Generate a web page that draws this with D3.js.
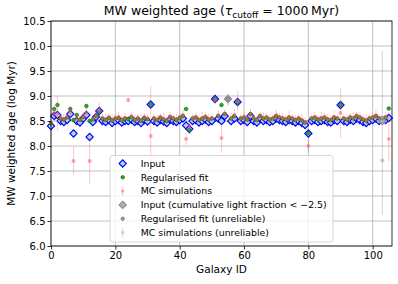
<!DOCTYPE html>
<html><head><meta charset="utf-8">
<script src="https://cdn.jsdelivr.net/npm/d3@7"></script>
<style>body{margin:0;background:#fff}svg{display:block;font-family:"DejaVu Sans",sans-serif}</style>
</head><body><svg id="c" width="398" height="284"></svg>
<script>
const inputAge = [8.40, 8.60, 8.62, 8.50, 8.48, 8.52, 8.64, 8.25, 8.50, 8.47,
 8.55, 8.62, 8.18, 8.48, 8.58, 8.70, 8.50, 8.48, 8.52, 8.46,
 8.50, 8.52, 8.47, 8.50, 8.50, 8.53, 8.48, 8.50, 8.46, 8.52,
 8.49, 8.83, 8.50, 8.47, 8.52, 8.49, 8.46, 8.53, 8.50, 8.48,
 8.52, 8.55, 8.41, 8.34, 8.50, 8.52, 8.47, 8.50, 8.53, 8.48,
 8.50, 8.94, 8.55, 8.50, 8.60, null, 8.50, 8.55, 8.88, 8.50,
 8.52, 8.48, 8.60, 8.50, 8.47, 8.55, 8.50, 8.52, 8.48, 8.50,
 8.55, 8.52, 8.50, 8.48, 8.52, 8.50, 8.47, 8.50, 8.46, 8.42,
 8.25, 8.50, 8.52, 8.48, 8.50, 8.52, 8.48, 8.47, 8.52, 8.50,
 8.82, 8.50, 8.48, 8.52, 8.50, 8.55, 8.52, 8.48, 8.46, 8.50,
 8.52, 8.55, 8.50, null, 8.52, 8.56];
const regFit = [8.45, 8.74, 8.82, 8.55, 8.53, 8.57, 8.74, 8.52, 8.62, 8.52,
 8.58, 8.80, 8.50, 8.53, 8.60, 8.68, 8.55, 8.52, 8.56, 8.51,
 8.55, 8.56, 8.52, 8.55, 8.54, 8.58, 8.52, 8.55, 8.50, 8.56,
 8.54, 8.83, 8.55, 8.52, 8.57, 8.53, 8.50, 8.58, 8.55, 8.52,
 8.56, 8.60, 8.74, 8.32, 8.55, 8.57, 8.52, 8.55, 8.58, 8.53,
 8.55, 8.94, 8.60, 8.82, 8.64, null, 8.55, 8.60, 8.87, 8.55,
 8.57, 8.53, 8.64, 8.55, 8.52, 8.60, 8.55, 8.57, 8.53, 8.55,
 8.60, 8.57, 8.55, 8.53, 8.57, 8.55, 8.52, 8.55, 8.51, 8.47,
 8.26, 8.55, 8.57, 8.53, 8.55, 8.57, 8.53, 8.52, 8.57, 8.55,
 8.82, 8.55, 8.53, 8.57, 8.55, 8.60, 8.57, 8.53, 8.51, 8.55,
 8.57, 8.60, 8.55, null, 8.57, 8.75];
const mcAge = [8.46, 8.66, 8.65, 8.56, 8.54, 8.58, 8.68, 7.70, 8.56, 8.53,
 8.60, 8.66, 7.70, 8.54, 8.62, 8.72, 8.56, 8.54, 8.58, 8.52,
 8.56, 8.58, 8.53, 8.56, 8.92, 8.59, 8.54, 8.56, 8.52, 8.58,
 8.55, 8.20, 8.56, 8.53, 8.58, 8.55, 8.52, 8.59, 8.56, 8.54,
 8.58, 8.62, 8.14, 8.40, 8.56, 8.58, 8.53, 8.56, 8.59, 8.54,
 8.56, 8.92, 8.62, 8.16, 8.64, null, 8.56, 8.62, 8.90, 8.56,
 8.58, 8.54, 8.64, 8.56, 8.53, 8.61, 8.56, 8.58, 8.54, 8.56,
 8.61, 8.58, 8.56, 8.54, 8.58, 8.56, 8.53, 8.56, 8.52, 8.48,
 8.00, 8.56, 8.58, 8.54, 8.56, 8.58, 8.54, 8.53, 8.58, 8.56,
 8.66, 8.56, 8.54, 8.58, 8.56, 8.61, 8.58, 8.54, 8.52, 8.56,
 8.58, 8.61, 8.56, null, 8.58, 8.14];
const mcErr = [0.08, 0.15, 0.35, 0.08, 0.10, 0.08, 0.12, 0.28, 0.08, 0.10,
 0.08, 0.12, 0.46, 0.08, 0.10, 0.15, 0.08, 0.10, 0.08, 0.12,
 0.08, 0.10, 0.08, 0.10, 0.05, 0.08, 0.10, 0.08, 0.12, 0.08,
 0.10, 1.00, 0.08, 0.10, 0.08, 0.12, 0.08, 0.10, 0.08, 0.10,
 0.08, 0.12, 0.12, 0.10, 0.08, 0.10, 0.08, 0.12, 0.08, 0.10,
 0.08, 0.06, 0.10, 0.30, 0.10, null, 0.08, 0.12, 0.20, 0.08,
 0.10, 0.08, 0.12, 0.08, 0.10, 0.08, 0.12, 0.08, 0.10, 0.08,
 0.12, 0.08, 0.10, 0.08, 0.12, 0.08, 0.10, 0.08, 0.12, 0.10,
 0.12, 0.08, 0.10, 0.08, 0.12, 0.08, 0.10, 0.08, 0.12, 0.08,
 0.50, 0.08, 0.10, 0.08, 0.12, 0.08, 0.10, 0.08, 0.12, 0.08,
 0.10, 0.12, 0.08, null, 0.10, 0.45];
const unrelIds = [55, 103];
const unrelInput = [8.94, 8.50];
const unrelReg = [8.94, 8.56];
const unrelMc = [8.92, 7.71];
const unrelMcLo = [8.80, 6.62];
const unrelMcHi = [9.05, 9.90];
const xTicks = [0, 20, 40, 60, 80, 100];
const yTicks = [6.0, 6.5, 7.0, 7.5, 8.0, 8.5, 9.0, 9.5, 10.0, 10.5];
const legendLabels = ["Input", "Regularised fit", "MC simulations",
  "Input (cumulative light fraction < \u22122.5)", "Regularised fit (unreliable)", "MC simulations (unreliable)"];

const svg = d3.select("#c");
const L = 51, R = 392, T = 21, B = 246;
const x = d3.scaleLinear().domain([0, 106]).range([L, R]);
const y = d3.scaleLinear().domain([6, 10.5]).range([B, T]);

// grid
const g = svg.append("g");
g.selectAll("line.gx").data(xTicks).join("line")
  .attr("x1", d => x(d)).attr("x2", d => x(d)).attr("y1", T).attr("y2", B)
  .attr("stroke", "#b0b0b0").attr("stroke-width", 0.8);
g.selectAll("line.gy").data(yTicks).join("line").attr("class","gy")
  .attr("x1", L).attr("x2", R).attr("y1", d => y(d)).attr("y2", d => y(d))
  .attr("stroke", "#b0b0b0").attr("stroke-width", 0.8);

const rel = d3.range(inputAge.length).filter(i => inputAge[i] !== null);
const diamond = d3.symbol(d3.symbolSquare, 26)();
const circle = d3.symbol(d3.symbolCircle, 10)();
const mcCircle = d3.symbol(d3.symbolCircle, 12)();

const plot = svg.append("g");
// Input
plot.selectAll("path.inp").data(rel).join("path")
  .attr("d", diamond).attr("transform", i => `translate(${x(i)},${y(inputAge[i])}) rotate(45)`)
  .attr("fill", "#a8d8ea").attr("stroke", "#0000ff").attr("stroke-width", 1.1);
// Regularised fit
plot.selectAll("path.reg").data(rel).join("path")
  .attr("d", circle).attr("transform", i => `translate(${x(i)},${y(regFit[i])})`)
  .attr("fill", "#22b022").attr("stroke", "#0b6b0b").attr("stroke-width", 0.7);
// MC simulations
plot.selectAll("line.mc").data(rel).join("line")
  .attr("x1", i => x(i)).attr("x2", i => x(i))
  .attr("y1", i => y(mcAge[i] - mcErr[i])).attr("y2", i => y(mcAge[i] + mcErr[i]))
  .attr("stroke", "#ff5555").attr("stroke-opacity", 0.3).attr("stroke-width", 1.1);
plot.selectAll("path.mc").data(rel).join("path")
  .attr("d", mcCircle).attr("transform", i => `translate(${x(i)},${y(mcAge[i])})`)
  .attr("fill", "#ff4d6a").attr("fill-opacity", 0.5);
// Unreliable
const ui = d3.range(unrelIds.length);
plot.selectAll("path.uinp").data(ui).join("path")
  .attr("d", diamond).attr("transform", k => `translate(${x(unrelIds[k])},${y(unrelInput[k])}) rotate(45)`)
  .attr("fill", "#b0b0b0").attr("stroke", "#8a8a8a").attr("stroke-width", 1.1);
plot.selectAll("path.ureg").data(ui).join("path")
  .attr("d", circle).attr("transform", k => `translate(${x(unrelIds[k])},${y(unrelReg[k])})`)
  .attr("fill", "#a0a0a0").attr("stroke", "#707070").attr("stroke-width", 0.7);
plot.selectAll("line.umc").data(ui).join("line")
  .attr("x1", k => x(unrelIds[k])).attr("x2", k => x(unrelIds[k]))
  .attr("y1", k => y(unrelMcLo[k])).attr("y2", k => y(unrelMcHi[k]))
  .attr("stroke", "#999").attr("stroke-opacity", 0.4).attr("stroke-width", 1.1);
plot.selectAll("path.umc").data(ui).join("path")
  .attr("d", mcCircle).attr("transform", k => `translate(${x(unrelIds[k])},${y(unrelMc[k])})`)
  .attr("fill", "#999").attr("fill-opacity", 0.5);

// axes
const xa = svg.append("g").attr("transform", `translate(0,${B})`)
  .call(d3.axisBottom(x).tickValues(xTicks).tickFormat(d3.format("d")).tickSize(3.5).tickPadding(2));
const ya = svg.append("g").attr("transform", `translate(${L},0)`)
  .call(d3.axisLeft(y).tickValues(yTicks).tickFormat(d3.format(".1f")).tickSize(3.5).tickPadding(2));
[xa, ya].forEach(a => {
  a.select(".domain").remove();
  a.selectAll("text").attr("font-size", 10).attr("fill", "#000").attr("font-family", "DejaVu Sans");
  a.selectAll("line").attr("stroke", "#000").attr("stroke-width", 0.8);
});
svg.append("rect").attr("x", L).attr("y", T).attr("width", R - L).attr("height", B - T)
  .attr("fill", "none").attr("stroke", "#000").attr("stroke-width", 0.8);

// legend
const lg = svg.append("g");
lg.append("rect").attr("x", 110).attr("y", 155.5).attr("width", 223).attr("height", 86.5)
  .attr("rx", 2.5).attr("fill", "#fff").attr("fill-opacity", 0.8).attr("stroke", "#cccccc").attr("stroke-width", 0.8);
const ly = d => 163.5 + d * 13.8;
const mx = 122.7;
lg.append("path").attr("d", diamond).attr("transform", `translate(${mx},${ly(0)}) rotate(45)`)
  .attr("fill", "#a8d8ea").attr("stroke", "#0000ff").attr("stroke-width", 1.1);
lg.append("path").attr("d", d3.symbol(d3.symbolCircle, 9)()).attr("transform", `translate(${mx},${ly(1)})`)
  .attr("fill", "#22b022").attr("stroke", "#0b6b0b").attr("stroke-width", 0.8);
lg.append("line").attr("x1", mx).attr("x2", mx).attr("y1", ly(2) - 5).attr("y2", ly(2) + 5)
  .attr("stroke", "#ff5555").attr("stroke-opacity", 0.3).attr("stroke-width", 1.1);
lg.append("path").attr("d", d3.symbol(d3.symbolCircle, 9)()).attr("transform", `translate(${mx},${ly(2)})`)
  .attr("fill", "#ff4d6a").attr("fill-opacity", 0.5);
lg.append("path").attr("d", diamond).attr("transform", `translate(${mx},${ly(3)}) rotate(45)`)
  .attr("fill", "#b0b0b0").attr("stroke", "#8a8a8a").attr("stroke-width", 1.1);
lg.append("path").attr("d", d3.symbol(d3.symbolCircle, 9)()).attr("transform", `translate(${mx},${ly(4)})`)
  .attr("fill", "#a0a0a0").attr("stroke", "#707070").attr("stroke-width", 0.8);
lg.append("line").attr("x1", mx).attr("x2", mx).attr("y1", ly(5) - 5).attr("y2", ly(5) + 5)
  .attr("stroke", "#999").attr("stroke-opacity", 0.3).attr("stroke-width", 1.1);
lg.append("path").attr("d", d3.symbol(d3.symbolCircle, 9)()).attr("transform", `translate(${mx},${ly(5)})`)
  .attr("fill", "#999").attr("fill-opacity", 0.4);
lg.selectAll("text").data(legendLabels).join("text")
  .attr("x", 140.7).attr("y", (d, i) => ly(i) + 3.3).attr("font-size", 9.4).attr("fill", "#000").text(d => d);

// labels
const title = svg.append("text").attr("x", (L + R) / 2).attr("y", 15).attr("text-anchor", "middle")
  .attr("font-size", 12.5).attr("fill", "#000");
title.append("tspan").text("MW weighted age (");
title.append("tspan").attr("font-style", "italic").text("\u03C4");
title.append("tspan").attr("font-size", 9).attr("dy", 2.5).text("cutoff");
title.append("tspan").attr("dy", -2.5).text(" = 1000\u2009Myr)");
svg.append("text").attr("x", (L + R) / 2).attr("y", 273).attr("text-anchor", "middle")
  .attr("font-size", 10.5).attr("fill", "#000").text("Galaxy ID");
svg.append("text").attr("transform", `translate(15,${(T + B) / 2}) rotate(-90)`).attr("text-anchor", "middle")
  .attr("font-size", 10.5).attr("fill", "#000").text("MW weighted age (log Myr)");
</script></body></html>
